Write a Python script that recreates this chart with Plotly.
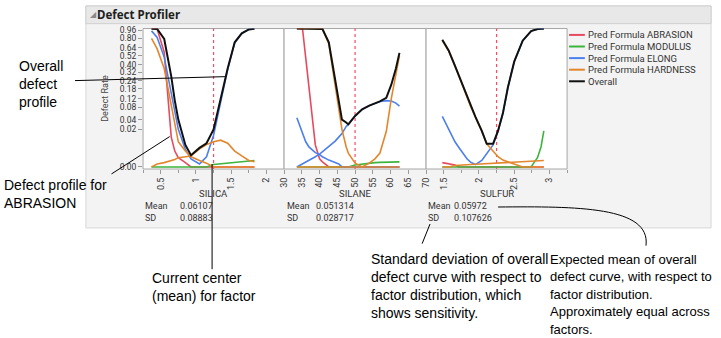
import numpy as np
import plotly.graph_objects as go

W, H = 721, 338

# ---------------- data ----------------
Y_TICK_VALUES = [0.00, 0.02, 0.04, 0.08, 0.12, 0.18, 0.24, 0.32, 0.40, 0.52, 0.64, 0.80, 0.96]
Y_TICK_LABELS = ["0.00", "0.02", "0.04", "0.08", "0.12", "0.18", "0.24", "0.32", "0.40", "0.52", "0.64", "0.80", "0.96"]

FACTORS = ["SILICA", "SILANE", "SULFUR"]
FACTOR_CENTERS = [1.25, 50, 2.25]
MEANS = ["0.06107", "0.051314", "0.05972"]
SDS = ["0.08883", "0.028717", "0.107626"]

LEGEND_NAMES = ["Pred Formula ABRASION", "Pred Formula MODULUS", "Pred Formula ELONG",
                "Pred Formula HARDNESS", "Overall"]

SILICA_X = [0.37, 0.45, 0.55, 0.60, 0.65, 0.70, 0.75, 0.85, 0.93, 1.05, 1.15, 1.25, 1.35, 1.45, 1.55, 1.65, 1.75, 1.83]
SILICA_ABRASION = [1.0, 0.99, 0.57, 0.15, 0.01, 0.0015, 0.0003, 0.00003, 0, 0, 0, 0, 0, 0, 0, 0, 0, 0]
SILICA_MODULUS = [0, 0, 0, 0, 0, 0, 0, 0, 0, 0, 0, 0.000005, 0.00001, 0.00002, 0.00004, 0.00006, 0.00009, 0.0001]
SILICA_ELONG = [0.95, 0.82, 0.50, 0.30, 0.16, 0.07, 0.02, 0.002, 0.0002, 0.00001, 0.0004, 0.012, 0.11, 0.35, 0.72, 0.90, 0.98, 0.995]
SILICA_HARDNESS = [0.80, 0.62, 0.36, 0.20, 0.09, 0.03, 0.006, 0.0015, 0.0004, 0.0001, 0.00002, 0, 0, 0, 0, 0, 0, 0]
SILICA_HARDNESS_B = [0, 0.00001, 0.00003, 0.00005, 0.0001, 0.00015, 0.0003, 0.0004, 0.0005, 0.0022, 0.0042, 0.006, 0.0072, 0.005, 0.0015, 0.0005, 0.0001, 0.00005]
SILICA_OVERALL = [0.995, 0.99, 0.79, 0.50, 0.28, 0.11, 0.04, 0.004, 0.0006, 0.0026, 0.005, 0.02, 0.12, 0.36, 0.73, 0.90, 0.98, 0.995]

SILANE_X = [33.6, 35.2, 36.1, 37.0, 37.9, 38.8, 40.0, 40.8, 42.6, 44.4, 45.4, 46.3, 47.5, 48.1, 50.0, 52.0, 54.0, 55.6, 57.0, 58.8, 60.2, 61.5, 62.5]
SILANE_ABRASION = [1.0, 0.99, 0.49, 0.19, 0.05, 0.004, 0.0002, 0.00005, 0, 0, 0, 0, 0, 0, 0, 0, 0, 0, 0, 0, 0, 0, 0]
SILANE_MODULUS = [0, 0, 0, 0, 0, 0, 0, 0, 0, 0, 0, 0, 0, 0, 0.000003, 0.00001, 0.00002, 0.00003, 0.000035, 0.00004, 0.00004, 0.000045, 0.00005]
SILANE_ELONG = [0.045, 0.013, 0.006, 0.003, 0.002, 0.0011, 0.0007, 0.0004, 0.00012, 0.00003, 0.00001, 0, 0, 0, 0, 0, 0, 0, 0, 0, 0, 0, 0]
SILANE_ELONG_B = [0, 0.00001, 0.00004, 0.0001, 0.0002, 0.0004, 0.0008, 0.0013, 0.0035, 0.0065, 0.01, 0.014, 0.025, 0.029, 0.05, 0.072, 0.087, 0.096, 0.106, 0.11, 0.108, 0.098, 0.085]
SILANE_HARDNESS = [1, 1, 1, 1, 1, 1, 1, 1.0, 0.7, 0.2, 0.068, 0.02, 0.003, 0.001, 0.00002, 0, 0.00002, 0.0002, 0.001, 0.017, 0.12, 0.32, 0.52]
SILANE_HARDNESS_B = [0, 0, 0, 0, 0, 0, 0, 0, 0, 0, 0, 0, 0, 0, 0, 0, 0, 0, 0, 0, 0, 0, 0]
SILANE_OVERALL = [1, 1, 1, 1, 1, 1, 1, 0.99, 0.73, 0.24, 0.10, 0.04, 0.033, 0.029, 0.05, 0.072, 0.087, 0.096, 0.106, 0.124, 0.21, 0.36, 0.56]

SULFUR_X = [1.48, 1.57, 1.66, 1.71, 1.78, 1.83, 1.88, 1.95, 2.04, 2.11, 2.20, 2.27, 2.34, 2.41, 2.50, 2.62, 2.74, 2.78, 2.83, 2.88, 2.92]
SULFUR_ABRASION = [0.00003, 0.00001, 0.000003, 0, 0, 0, 0, 0, 0, 0, 0, 0, 0, 0, 0, 0, 0, 0, 0, 0, 0]
SULFUR_MODULUS = [0, 0, 0, 0, 0, 0, 0, 0, 0, 0, 0, 0, 0, 0, 0, 0, 0, 0.00003, 0.0003, 0.003, 0.0176]
SULFUR_ELONG = [0.0486, 0.02, 0.006, 0.003, 0.0007, 0.0002, 0.00004, 0.000005, 0.0001, 0.0009, 0.004, 0.017, 0.058, 0.188, 0.44, 0.759, 0.946, 0.97, 0.99, 0.995, 0.998]
SULFUR_HARDNESS = [0.76, 0.59, 0.39, 0.29, 0.186, 0.127, 0.085, 0.047, 0.0176, 0.0047, 0.0015, 0.0004, 0.00012, 0.00005, 0.00001, 0, 0, 0, 0, 0, 0]
SULFUR_HARDNESS_B = [0, 0, 0.000001, 0.000002, 0.000003, 0.000004, 0.000005, 0.000007, 0.00001, 0.000012, 0.000016, 0.00002, 0.000024, 0.00003, 0.000038, 0.00005, 0.000065, 0.00007, 0.00008, 0.00009, 0.0001]
SULFUR_OVERALL = [0.776, 0.597, 0.39, 0.298, 0.187, 0.129, 0.087, 0.047, 0.0176, 0.0047, 0.0047, 0.0176, 0.0587, 0.189, 0.44, 0.759, 0.946, 0.97, 0.99, 0.995, 0.998]

# ---------------- styles ----------------
RED, GREEN, BLUE, ORANGE, BLACK = "#E64A5E", "#3DB43D", "#4C7FEE", "#E3862C", "#111111"
LEGEND_COLORS = [RED, GREEN, BLUE, ORANGE, BLACK]
SMALL = "Roboto"
ANN = "Liberation Sans"
SMALL_SIZE = 9


def P(px, py):
    return px / W, 1 - py / H


def tr(v):
    return np.cbrt(np.asarray(v, dtype=float))


fig = go.Figure()

panels = [
    ("x", SILICA_X, [(SILICA_ABRASION, RED), (SILICA_MODULUS, GREEN), (SILICA_ELONG, BLUE),
                     (SILICA_HARDNESS, ORANGE), (SILICA_HARDNESS_B, ORANGE)], SILICA_OVERALL),
    ("x2", SILANE_X, [(SILANE_ABRASION, RED), (SILANE_MODULUS, GREEN), (SILANE_ELONG, BLUE),
                      (SILANE_ELONG_B, BLUE), (SILANE_HARDNESS, ORANGE), (SILANE_HARDNESS_B, ORANGE)], SILANE_OVERALL),
    ("x3", SULFUR_X, [(SULFUR_ABRASION, RED), (SULFUR_MODULUS, GREEN), (SULFUR_ELONG, BLUE),
                      (SULFUR_HARDNESS, ORANGE), (SULFUR_HARDNESS_B, ORANGE)], SULFUR_OVERALL),
]
for ax, xs, series, overall in panels:
    for vals, col in series:
        fig.add_trace(go.Scatter(x=xs, y=tr(vals), mode="lines", line=dict(color=col, width=1.6),
                                 xaxis=ax, yaxis="y", showlegend=False, hoverinfo="skip"))
    fig.add_trace(go.Scatter(x=xs, y=tr(overall), mode="lines", line=dict(color=BLACK, width=2),
                             xaxis=ax, yaxis="y", showlegend=False, hoverinfo="skip"))

shapes = []
annotations = []


def label(t, px, py, size=SMALL_SIZE, color="#333333", family=SMALL, xanchor="left", **kw):
    a, b = P(px, py)
    annotations.append(dict(text=t, x=a, y=b, xref="paper", yref="paper", xanchor=xanchor, yanchor="middle",
                            showarrow=False, font=dict(size=size, color=color, family=family), **kw))


# report frame and title bar
x0, y0 = P(82, 3)
x1, y1 = P(716, 229)
shapes.append(dict(type="rect", xref="paper", yref="paper", x0=x0, y0=y1, x1=x1, y1=y0,
                   fillcolor="#F3F3F3", line=dict(color="#D8D8D8", width=1), layer="below"))
x0, y0 = P(82, 3)
x1, y1 = P(716, 21)
shapes.append(dict(type="rect", xref="paper", yref="paper", x0=x0, y0=y1, x1=x1, y1=y0,
                   fillcolor="#E8E8E8", line=dict(color="#D0D0D0", width=1), layer="below"))
label("◢", 84, 12, size=8, color="#8A8A8A", family="DejaVu Sans")
label("<b>Defect Profiler</b>", 91, 12, size=11.5, color="#1E1E1E", family="Noto Sans")

# panels
domains = [(140, 283), (283, 427), (427, 570)]
ranges = [(0.25, 2.25), (30, 70), (1.25, 3.25)]
dticks = [0.5, 5, 0.5]
axis_layout = {}
for i, (ax, _, _, _) in enumerate(panels):
    name = "xaxis" if ax == "x" else "xaxis" + ax[1:]
    d0, d1 = domains[i]
    cfg = dict(domain=[d0 / W, d1 / W], range=list(ranges[i]), anchor="y", showgrid=False, zeroline=False,
               showline=False, ticks="outside", ticklen=4, tickcolor="#9A9A9A", tickmode="linear",
               tick0=0, dtick=dticks[i], tickangle=-90,
               tickfont=dict(family=SMALL, size=SMALL_SIZE, color="#333333"), fixedrange=True)
    if dticks[i] == 0.5:
        cfg["minor"] = dict(ticks="outside", ticklen=3, dtick=0.25, tick0=0, tickcolor="#9A9A9A")
    axis_layout[name] = cfg
    dref = ax + " domain"
    shapes.append(dict(type="rect", xref=dref, yref="y domain", x0=0, x1=1, y0=0, y1=1,
                       fillcolor="white", line=dict(color="#A6A6A6", width=1), layer="below"))
    shapes.append(dict(type="line", xref=ax, yref="y domain", x0=FACTOR_CENTERS[i], x1=FACTOR_CENTERS[i],
                       y0=0, y1=1, line=dict(color="#FF4A62", width=1.2, dash="dot"), layer="below"))
    label(FACTORS[i], (d0 + d1) / 2, 194, size=9.5, xanchor="center")

# Mean / SD blocks
mean_pos = [(140, 175), (284, 313), (427, 453)]
for i, (lx, vx) in enumerate(mean_pos):
    for row, (lab, val) in enumerate([("Mean", MEANS[i]), ("SD", SDS[i])]):
        py = 207 + row * 12
        label(lab, lx, py)
        label(val, vx, py)

# y title
label("Defect Rate", 102, 97, xanchor="center", textangle=-90, color="#444444")

# legend
for i, (nm, col) in enumerate(zip(LEGEND_NAMES, LEGEND_COLORS)):
    py = 32.5 + i * 11.8
    a, b = P(572, py)
    c, _ = P(588, py)
    shapes.append(dict(type="line", xref="paper", yref="paper", x0=a, x1=c, y0=b, y1=b,
                       line=dict(color=col, width=2)))
    label(nm, 589, py, size=9.5)


# explanatory callouts
def line(p, q):
    a, b = P(*p)
    c, d = P(*q)
    shapes.append(dict(type="line", xref="paper", yref="paper", x0=a, y0=b, x1=c, y1=d,
                       line=dict(color="black", width=1)))


def text(lines, px, py_first, step=18.1, size=14):
    for k, t in enumerate(lines):
        label(t, px - 2, py_first + k * step, size=size, color="black", family=ANN)


text(["Overall", "defect", "profile"], 14, 64.5)
line((71, 79), (223, 75))
text(["Defect profile for", "ABRASION"], -1, 185.5)
line((108, 174), (167, 136))
text(["Current center", "(mean) for factor"], 149, 280)
line((210, 164), (210, 271))
text(["Standard deviation of overall", "defect curve with respect to",
      "factor distribution, which", "shows sensitivity."], 371, 261)
line((431, 225), (423, 245))
text(["Expected mean of overall", "defect curve, with respect to", "factor distribution.",
      "Approximately equal across", "factors."], 553, 261, step=17.8, size=13)
p0, p1, p2, p3 = P(500, 207.7), P(580, 207), P(655, 207), P(650, 247)
shapes.append(dict(type="path", xref="paper", yref="paper",
                   path=f"M {p0[0]},{p0[1]} C {p1[0]},{p1[1]} {p2[0]},{p2[1]} {p3[0]},{p3[1]}",
                   line=dict(color="black", width=1)))

fig.update_layout(
    width=W, height=H, margin=dict(l=0, r=0, t=0, b=0),
    paper_bgcolor="white", plot_bgcolor="rgba(0,0,0,0)",
    showlegend=False,
    yaxis=dict(domain=[1 - 169 / H, 1 - 26 / H], range=[-0.015, 1.0], anchor="x",
               tickmode="array", tickvals=list(tr(Y_TICK_VALUES)), ticktext=Y_TICK_LABELS,
               ticks="outside", ticklen=4, tickcolor="#9A9A9A", showgrid=False, zeroline=False,
               showline=False, tickfont=dict(family=SMALL, size=8.5, color="#333333"), fixedrange=True),
    shapes=shapes, annotations=annotations,
    **axis_layout,
)

fig.write_html("out.html")
